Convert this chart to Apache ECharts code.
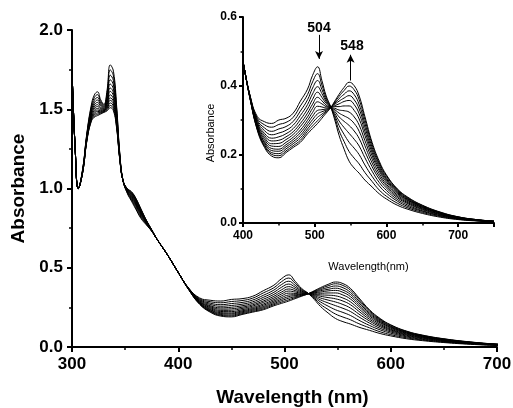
<!DOCTYPE html>
<html>
<head>
<meta charset="utf-8">
<script src="https://cdn.jsdelivr.net/npm/echarts@6/dist/echarts.min.js"></script>
<style>
  html, body { margin: 0; padding: 0; background: #fff; }
  #chart { width: 513px; height: 408px; }
</style>
</head>
<body>
<div id="chart"></div>
<script>
  // wavelengths (nm) shared by every spectrum
  const wavelength = [300, 303, 306, 310, 314, 318, 321, 324, 327, 330, 333, 336, 339, 342, 345,
    348, 352, 356, 360, 365, 370, 375, 380, 390, 400, 410, 420, 430, 440, 450,
    460, 470, 480, 490, 497, 504, 510, 516, 522, 528, 534, 541, 548, 555, 562,
    570, 580, 590, 600, 615, 630, 650, 675, 700, 725, 750]

  // absorbance of each titration step, first to last
  const s0 = [1.75, 1.25, 1.00, 1.12, 1.35, 1.52, 1.59, 1.61, 1.56, 1.53, 1.62, 1.78, 1.74, 1.52, 1.22,
    1.05, 0.97, 0.92, 0.87, 0.81, 0.77, 0.73, 0.68, 0.58, 0.47, 0.37, 0.31, 0.295, 0.29, 0.30,
    0.305, 0.32, 0.355, 0.39, 0.43, 0.455, 0.415, 0.37, 0.34, 0.30, 0.255, 0.215, 0.18, 0.16, 0.145,
    0.125, 0.105, 0.085, 0.07, 0.052, 0.04, 0.028, 0.017, 0.010, 0.006, 0.004]
  const s1 = [1.75, 1.25, 1.00, 1.12, 1.344, 1.508, 1.573, 1.592, 1.549, 1.524, 1.604, 1.748, 1.71, 1.503, 1.215,
    1.05, 0.974, 0.927, 0.878, 0.817, 0.774, 0.731, 0.68, 0.58, 0.47, 0.369, 0.305, 0.286, 0.279, 0.287,
    0.293, 0.308, 0.341, 0.374, 0.411, 0.435, 0.402, 0.364, 0.339, 0.307, 0.269, 0.237, 0.208, 0.189, 0.172,
    0.147, 0.121, 0.096, 0.078, 0.058, 0.044, 0.031, 0.019, 0.011, 0.007, 0.004]
  const s2 = [1.75, 1.25, 1.00, 1.12, 1.338, 1.496, 1.556, 1.574, 1.538, 1.518, 1.589, 1.715, 1.68, 1.486, 1.21,
    1.05, 0.977, 0.934, 0.887, 0.824, 0.777, 0.732, 0.68, 0.58, 0.47, 0.368, 0.30, 0.277, 0.267, 0.274,
    0.281, 0.296, 0.326, 0.359, 0.393, 0.415, 0.389, 0.358, 0.339, 0.313, 0.284, 0.258, 0.235, 0.218, 0.199,
    0.169, 0.136, 0.108, 0.087, 0.064, 0.048, 0.034, 0.021, 0.012, 0.007, 0.004]
  const s3 = [1.75, 1.25, 1.00, 1.11, 1.333, 1.485, 1.541, 1.558, 1.529, 1.513, 1.575, 1.686, 1.653, 1.471, 1.206,
    1.05, 0.981, 0.941, 0.895, 0.831, 0.781, 0.734, 0.68, 0.58, 0.47, 0.367, 0.296, 0.269, 0.257, 0.262,
    0.27, 0.285, 0.313, 0.345, 0.376, 0.397, 0.377, 0.353, 0.338, 0.319, 0.297, 0.278, 0.261, 0.244, 0.224,
    0.19, 0.151, 0.118, 0.095, 0.069, 0.052, 0.036, 0.022, 0.013, 0.007, 0.004]
  const s4 = [1.75, 1.25, 1.00, 1.11, 1.328, 1.475, 1.527, 1.543, 1.52, 1.508, 1.562, 1.659, 1.628, 1.457, 1.202,
    1.05, 0.984, 0.947, 0.902, 0.837, 0.784, 0.735, 0.68, 0.58, 0.47, 0.366, 0.292, 0.261, 0.247, 0.251,
    0.26, 0.275, 0.301, 0.332, 0.36, 0.381, 0.366, 0.348, 0.338, 0.325, 0.309, 0.296, 0.284, 0.268, 0.246,
    0.208, 0.164, 0.128, 0.102, 0.074, 0.056, 0.039, 0.024, 0.014, 0.008, 0.004]
  const s5 = [1.75, 1.25, 1.00, 1.11, 1.323, 1.466, 1.514, 1.529, 1.511, 1.503, 1.55, 1.634, 1.605, 1.444, 1.198,
    1.05, 0.986, 0.952, 0.908, 0.842, 0.786, 0.735, 0.68, 0.58, 0.47, 0.365, 0.288, 0.255, 0.239, 0.241,
    0.251, 0.266, 0.29, 0.32, 0.346, 0.366, 0.356, 0.343, 0.337, 0.33, 0.32, 0.312, 0.304, 0.29, 0.267,
    0.225, 0.175, 0.136, 0.108, 0.078, 0.059, 0.041, 0.025, 0.014, 0.008, 0.005]
  const s6 = [1.75, 1.25, 1.00, 1.11, 1.319, 1.458, 1.503, 1.517, 1.504, 1.499, 1.539, 1.613, 1.585, 1.433, 1.195,
    1.05, 0.989, 0.957, 0.913, 0.847, 0.789, 0.736, 0.68, 0.58, 0.47, 0.364, 0.285, 0.249, 0.231, 0.232,
    0.243, 0.258, 0.281, 0.309, 0.334, 0.353, 0.347, 0.339, 0.337, 0.334, 0.329, 0.327, 0.323, 0.309, 0.285,
    0.24, 0.186, 0.144, 0.113, 0.082, 0.062, 0.043, 0.026, 0.015, 0.008, 0.005]
  const s7 = [1.75, 1.25, 1.00, 1.11, 1.315, 1.45, 1.492, 1.505, 1.497, 1.495, 1.529, 1.591, 1.565, 1.422, 1.192,
    1.05, 0.991, 0.962, 0.919, 0.852, 0.791, 0.737, 0.68, 0.58, 0.47, 0.363, 0.282, 0.243, 0.224, 0.223,
    0.235, 0.25, 0.271, 0.299, 0.322, 0.34, 0.338, 0.335, 0.337, 0.339, 0.339, 0.341, 0.341, 0.328, 0.303,
    0.255, 0.196, 0.152, 0.119, 0.086, 0.065, 0.045, 0.028, 0.016, 0.009, 0.005]
  const s8 = [1.75, 1.25, 1.00, 1.10, 1.312, 1.443, 1.482, 1.495, 1.491, 1.492, 1.52, 1.572, 1.548, 1.412, 1.189,
    1.05, 0.993, 0.966, 0.924, 0.856, 0.793, 0.738, 0.68, 0.58, 0.47, 0.362, 0.279, 0.237, 0.217, 0.215,
    0.228, 0.243, 0.263, 0.29, 0.311, 0.328, 0.33, 0.332, 0.336, 0.342, 0.347, 0.354, 0.357, 0.345, 0.318,
    0.267, 0.205, 0.158, 0.124, 0.089, 0.067, 0.046, 0.029, 0.016, 0.009, 0.005]
  const s9 = [1.75, 1.25, 1.00, 1.10, 1.309, 1.437, 1.474, 1.486, 1.485, 1.489, 1.512, 1.556, 1.533, 1.404, 1.187,
    1.05, 0.995, 0.97, 0.928, 0.86, 0.795, 0.738, 0.68, 0.58, 0.47, 0.362, 0.277, 0.233, 0.211, 0.209,
    0.222, 0.237, 0.255, 0.282, 0.301, 0.318, 0.324, 0.329, 0.336, 0.346, 0.355, 0.364, 0.371, 0.359, 0.332,
    0.279, 0.213, 0.164, 0.128, 0.092, 0.069, 0.048, 0.029, 0.017, 0.009, 0.005]
  const s10 = [1.75, 1.25, 1.00, 1.10, 1.306, 1.431, 1.465, 1.477, 1.48, 1.486, 1.504, 1.54, 1.518, 1.395, 1.184,
    1.05, 0.997, 0.973, 0.932, 0.863, 0.797, 0.739, 0.68, 0.58, 0.47, 0.361, 0.274, 0.228, 0.205, 0.202,
    0.216, 0.231, 0.248, 0.274, 0.292, 0.308, 0.317, 0.326, 0.336, 0.349, 0.362, 0.375, 0.385, 0.374, 0.345,
    0.29, 0.221, 0.17, 0.132, 0.095, 0.071, 0.049, 0.03, 0.017, 0.01, 0.005]
  const s11 = [1.75, 1.25, 1.00, 1.10, 1.303, 1.425, 1.457, 1.468, 1.475, 1.483, 1.497, 1.524, 1.503, 1.387, 1.182,
    1.05, 0.999, 0.977, 0.937, 0.867, 0.799, 0.74, 0.68, 0.58, 0.47, 0.361, 0.272, 0.224, 0.2, 0.196,
    0.21, 0.225, 0.241, 0.267, 0.283, 0.298, 0.311, 0.323, 0.335, 0.352, 0.369, 0.386, 0.399, 0.388, 0.359,
    0.301, 0.229, 0.175, 0.137, 0.098, 0.073, 0.051, 0.031, 0.018, 0.01, 0.005]
  const s12 = [1.75, 1.25, 1.00, 1.10, 1.30, 1.42, 1.45, 1.46, 1.47, 1.48, 1.49, 1.51, 1.49, 1.38, 1.18,
    1.05, 1.00, 0.98, 0.94, 0.87, 0.80, 0.74, 0.68, 0.58, 0.47, 0.36, 0.27, 0.22, 0.195, 0.19,
    0.205, 0.22, 0.235, 0.26, 0.275, 0.29, 0.305, 0.32, 0.335, 0.355, 0.375, 0.395, 0.41, 0.40, 0.37,
    0.31, 0.235, 0.18, 0.14, 0.10, 0.075, 0.052, 0.032, 0.018, 0.01, 0.005]

  const spectra = [s0, s1, s2, s3, s4, s5, s6, s7, s8, s9, s10, s11, s12]

  // peak annotations in the inset: [label, x, arrow start, arrow end, label y]
  const peak504 = ['504', 506, 0.548, 0.478, 0.568]
  const peak548 = ['548', 550, 0.415, 0.49, 0.516]

  const font = 'Liberation Sans, Arial, Helvetica, sans-serif'
  const chart = echarts.init(document.getElementById('chart'))

  function axisStyle(labelSize, tickLen, margin) {
    return {
      axisLine: { show: true, onZero: false, lineStyle: { color: '#000', width: 2 } },
      axisTick: { show: true, inside: false, length: tickLen, lineStyle: { color: '#000', width: 2 } },
      minorTick: { show: true, splitNumber: 2, length: tickLen * 0.6, lineStyle: { color: '#000', width: 1.5 } },
      splitLine: { show: false },
      axisLabel: {
        color: '#000', fontFamily: font, fontWeight: 'bold', fontSize: labelSize, margin: margin,
        formatter: v => (v < 10 ? v.toFixed(1) : String(v))
      }
    }
  }

  const series = []
  spectra.forEach((s, i) => {
    const data = wavelength.map((w, j) => [w, s[j]])
    const base = {
      type: 'line', data: data, symbol: 'none', silent: true,
      smooth: 0.45, clip: true,
      lineStyle: { color: '#000', width: 1 }
    }
    series.push(Object.assign({ xAxisIndex: 0, yAxisIndex: 0 }, base))
    const inset = Object.assign({ xAxisIndex: 1, yAxisIndex: 1 }, base)
    if (i === 0) {
      inset.markLine = {
        silent: true, symbol: ['none', 'arrow'], symbolSize: [6, 8],
        lineStyle: { color: '#000', width: 1, type: 'solid' }, label: { show: false },
        data: [
          [{ coord: [peak504[1], peak504[2]] }, { coord: [peak504[1], peak504[3]] }],
          [{ coord: [peak548[1], peak548[2]] }, { coord: [peak548[1], peak548[3]] }]
        ]
      }
      inset.markPoint = {
        silent: true, symbol: 'circle', symbolSize: 0,
        label: { show: true, color: '#000', fontFamily: font, fontWeight: 'bold', fontSize: 14,
          formatter: p => p.name },
        data: [
          { name: peak504[0], coord: [peak504[1], peak504[4]] },
          { name: peak548[0], coord: [peak548[1] + 2, peak548[4]] }
        ]
      }
    }
    series.push(inset)
  })

  const mainX = axisStyle(17, 5, 9)
  const mainY = axisStyle(17, 5, 9)
  const insetX = axisStyle(12, 4, 7)
  insetX.axisLabel.showMaxLabel = false
  const insetY = axisStyle(12, 4, 6)

  chart.setOption({
    animation: false,
    backgroundColor: '#fff',
    grid: [
      { left: 72, right: 16, top: 30, bottom: 61, outerBoundsMode: 'none' },
      { left: 243, right: 19, top: 17, bottom: 185, outerBoundsMode: 'none' }
    ],
    xAxis: [
      Object.assign({
        gridIndex: 0, type: 'value', min: 300, max: 700, interval: 100,
        name: 'Wavelength (nm)', nameLocation: 'middle', nameGap: 41,
        nameTextStyle: { color: '#000', fontFamily: font, fontWeight: 'bold', fontSize: 19, padding: [0, 0, 0, 16] }
      }, mainX),
      Object.assign({
        gridIndex: 1, type: 'value', min: 400, max: 750, interval: 100,
        name: 'Wavelength(nm)', nameLocation: 'middle', nameGap: 38,
        nameTextStyle: { color: '#000', fontFamily: font, fontSize: 11 }
      }, insetX)
    ],
    yAxis: [
      Object.assign({
        gridIndex: 0, type: 'value', min: 0, max: 2, interval: 0.5,
        name: 'Absorbance', nameLocation: 'middle', nameGap: 42,
        nameTextStyle: { color: '#000', fontFamily: font, fontWeight: 'bold', fontSize: 19 }
      }, mainY),
      Object.assign({
        gridIndex: 1, type: 'value', min: 0, max: 0.6, interval: 0.2,
        name: 'Absorbance', nameLocation: 'middle', nameGap: 26,
        nameTextStyle: { color: '#000', fontFamily: font, fontSize: 11, padding: [0, 26, 0, 0] }
      }, insetY)
    ],
    series: series
  })
</script>
</body>
</html>
